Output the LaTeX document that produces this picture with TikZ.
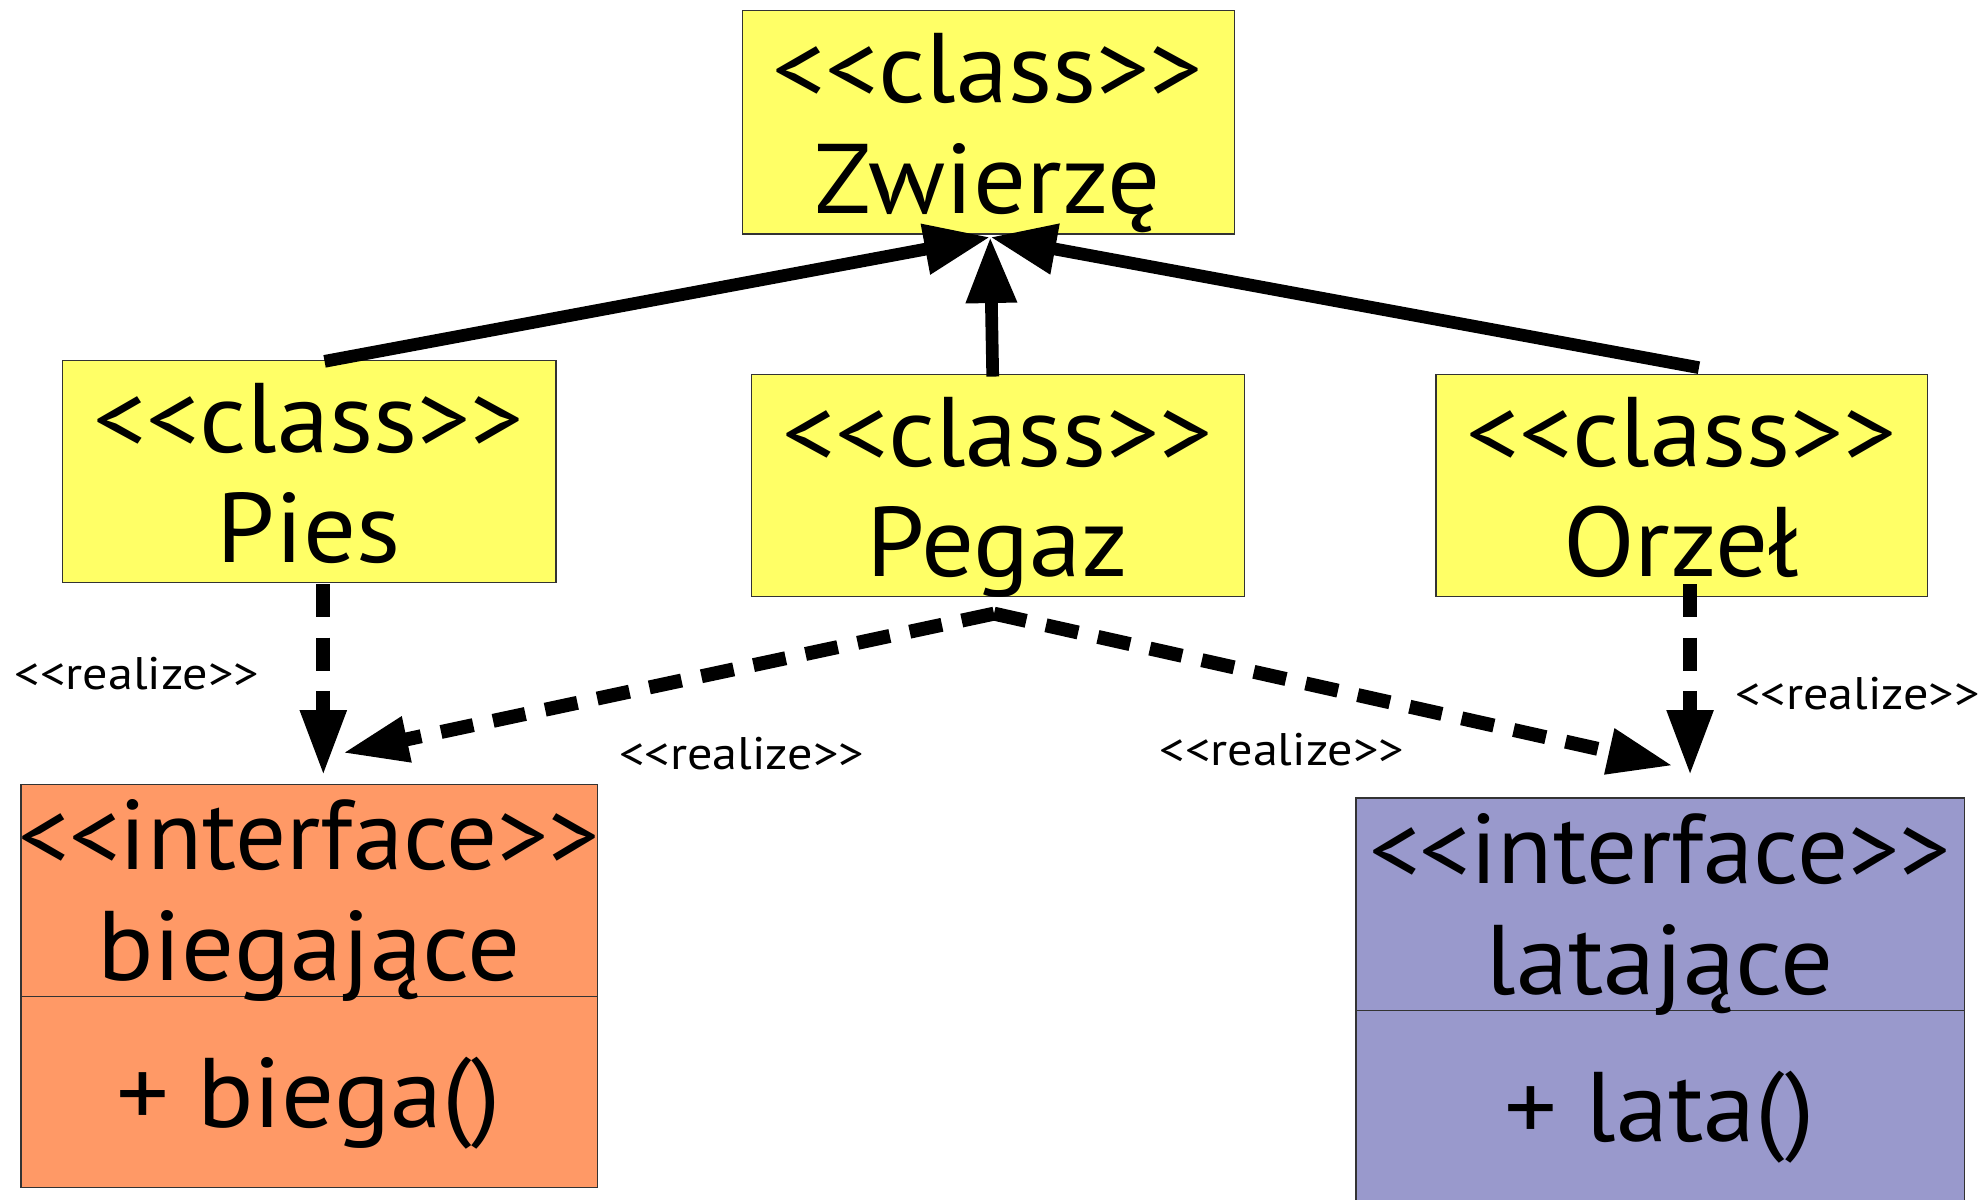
\documentclass[tikz,border=0pt]{standalone}
\usepackage{fontspec}
\newfontfamily\uf{PT Sans}[FakeStretch=1.06]
\newfontfamily\ui{PT Sans}[FakeStretch=1.02]
\newfontfamily\us{PT Sans}[FakeStretch=1.1]
\usetikzlibrary{arrows.meta}
\newcommand\dlt{<\kern0pt<}
\newcommand\dgt{>\kern0pt>}
\definecolor{cyel}{HTML}{FFFF66}
\definecolor{corg}{HTML}{FF9966}
\definecolor{cpur}{HTML}{9999CC}
\definecolor{cbrd}{HTML}{333333}
\begin{document}
\begin{tikzpicture}[x=1pt,y=-1pt,
  box/.style={draw=cbrd, line width=1pt, anchor=north west, inner sep=0pt},
  big/.style={font=\uf\fontsize{78}{80}\selectfont, inner sep=0pt, anchor=base},
  bigi/.style={font=\ui\fontsize{78}{80}\selectfont, inner sep=0pt, anchor=base},
  small/.style={font=\us\fontsize{36}{38}\selectfont, inner sep=0pt},
  gen/.style={line width=10pt, -{Triangle[length=52pt,width=38pt]}},
  real/.style={line width=11pt, dash pattern=on 26pt off 16pt, -{Triangle[length=52pt,width=34pt]}}
]
\useasboundingbox (0,0) rectangle (1568,946);
% class boxes
\node[box, fill=cyel, minimum width=388pt, minimum height=176pt] (zw) at (585,8) {};
\node[box, fill=cyel, minimum width=389pt, minimum height=175pt] (pies) at (49,284) {};
\node[box, fill=cyel, minimum width=389pt, minimum height=175pt] (pegaz) at (592,295) {};
\node[box, fill=cyel, minimum width=388pt, minimum height=175pt] (orzel) at (1132,295) {};
% interface boxes
\node[box, fill=corg, minimum width=455pt, minimum height=318pt] (bieg) at (16,618) {};
\draw[cbrd, line width=1pt] (16,786) -- (471,786);
\node[box, fill=cpur, minimum width=480pt, minimum height=330pt] (lat) at (1069,629) {};
\draw[cbrd, line width=1pt] (1069,797) -- (1549,797);
% texts
\node[big] (zw1) at (779,81) {\dlt class\dgt};
\node[big] (zw2) at (779,168) {Zwierzę};
\node[big] (pi1) at (243.5,357) {\dlt class\dgt};
\node[big] (pi2) at (243.5,444) {Pies};
\node[big] (pe1) at (786.5,368) {\dlt class\dgt};
\node[big] (pe2) at (786.5,455) {Pegaz};
\node[big] (or1) at (1326,368) {\dlt class\dgt};
\node[big] (or2) at (1326,455) {Orzeł};
\node[bigi] (bi1) at (243.5,686) {\dlt interface\dgt};
\node[big] (bi2) at (243.5,773) {biegające};
\node[big] (bi3) at (243.5,889) {+ biega()};
\node[bigi] (la1) at (1309,697) {\dlt interface\dgt};
\node[big] (la2) at (1309,784) {latające};
\node[big] (la3) at (1309,900) {+ lata()};
% generalization arrows
\coordinate (tip) at (781,187);
\coordinate (piesA) at (256,285);
\coordinate (pegA) at (783,297);
\coordinate (orzA) at (1340,290);
\draw[gen] (piesA) -- (tip);
\draw[gen] (pegA) -- (tip);
\draw[gen] (orzA) -- (tip);
% realization arrows
\coordinate (piesB) at (255,461);
\coordinate (biegT) at (255,612);
\coordinate (pegB) at (784,484);
\coordinate (biegR) at (270,594);
\coordinate (latL) at (1320,604);
\coordinate (orzB) at (1333,461);
\coordinate (latT) at (1333,612);
\draw[real] (piesB) -- (biegT);
\draw[real] (pegB) -- (biegR);
\draw[real] (pegB) -- (latL);
\draw[real] (orzB) -- (latT);
% labels
\node[small] (r1) at (108,531) {\dlt realize\dgt};
\node[small] (r2) at (585,594) {\dlt realize\dgt};
\node[small] (r3) at (1011,591) {\dlt realize\dgt};
\node[small] (r4) at (1465,547) {\dlt realize\dgt};
\end{tikzpicture}
\end{document}
